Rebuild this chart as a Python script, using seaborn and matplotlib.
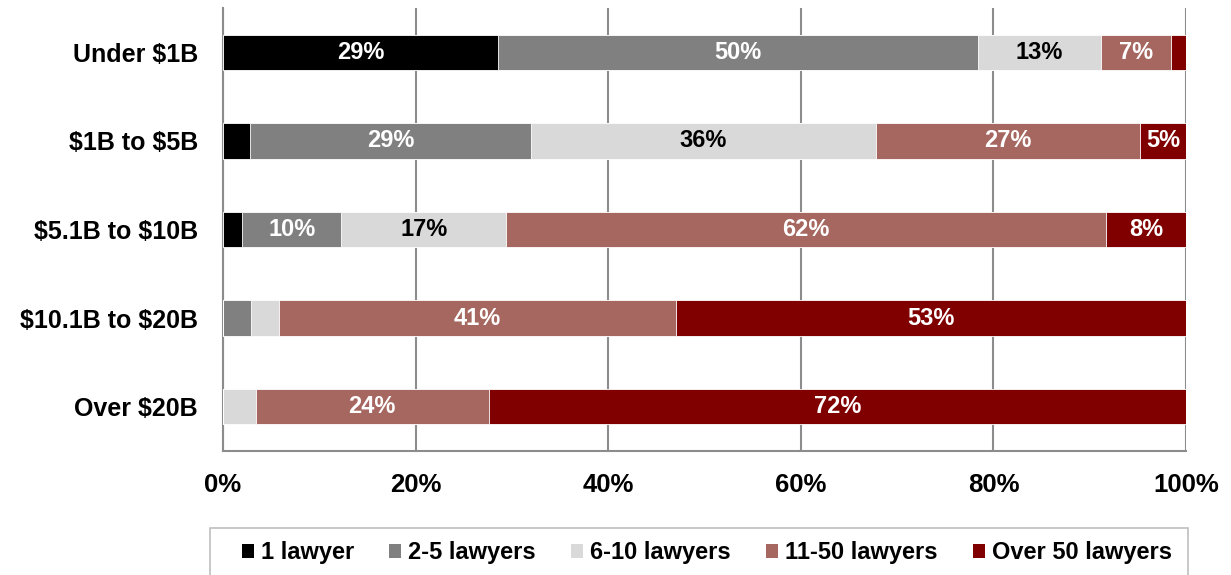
import numpy as np
import pandas as pd
import matplotlib
matplotlib.use("Agg")
import matplotlib.pyplot as plt
import seaborn as sns
from matplotlib.ticker import FixedLocator, PercentFormatter
from matplotlib.patches import Patch, Rectangle

categories = ["Under $1B", "$1B to $5B", "$5.1B to $10B", "$10.1B to $20B", "Over $20B"]
series_names = ["1 lawyer", "2-5 lawyers", "6-10 lawyers", "11-50 lawyers", "Over 50 lawyers"]
one_lawyer = [28.6, 2.8, 2.0, 0.0, 0.0]
two_five = [49.8, 29.2, 10.3, 2.9, 0.0]
six_ten = [12.8, 35.8, 17.1, 2.9, 3.4]
eleven_fifty = [7.2, 27.4, 62.3, 41.2, 24.2]
over_fifty = [1.6, 4.8, 8.3, 53.0, 72.4]
x_ticks = [0, 20, 40, 60, 80, 100]

colors = ["#000000", "#808080", "#d9d9d9", "#a5675f", "#800000"]
text_colors = ["white", "white", "black", "white", "white"]

series = [one_lawyer, two_five, six_ten, eleven_fifty, over_fifty]
vals = np.array(series)  # shape (5 series, 5 cats)
cum = np.cumsum(vals, axis=0)

sns.set_style("white")
plt.rcParams["font.family"] = ["Liberation Sans", "DejaVu Sans"]
plt.rcParams["text.parse_math"] = False
plt.rcParams["text.color"] = "black"
plt.rcParams["xtick.color"] = "black"
plt.rcParams["ytick.color"] = "black"

fig = plt.figure(figsize=(12.31, 5.75), dpi=100)
ax = fig.add_axes([223 / 1231, 1 - 451 / 575, (1186 - 223) / 1231, (451 - 8) / 575])

# stacked bars by overlaying cumulative totals (largest first)
for i in range(len(series) - 1, -1, -1):
    df = pd.DataFrame({"cat": categories, "val": cum[i]})
    sns.barplot(data=df, x="val", y="cat", orient="h", color=colors[i],
                width=0.40, ax=ax, edgecolor="white", linewidth=0.6,
                saturation=1, zorder=3)

# labels
for i in range(len(series)):
    left = cum[i] - vals[i]
    for j, cat in enumerate(categories):
        v = vals[i][j]
        if v >= 4.5:
            ax.text(left[j] + v / 2, j, f"{v:.0f}%", ha="center", va="center",
                    color=text_colors[i], fontsize=17, fontweight="bold", zorder=5)

ax.set_xlim(0, 100)
ax.set_ylim(len(categories) - 0.5, -0.5)
ax.xaxis.set_major_locator(FixedLocator(x_ticks))
ax.xaxis.set_major_formatter(PercentFormatter(decimals=0))
ax.set_xlabel("")
ax.set_ylabel("")
ax.grid(axis="x", color="#8c8c8c", linewidth=1.5, zorder=0)
ax.grid(axis="y", visible=False)
ax.set_axisbelow(True)

for s in ["top", "right"]:
    ax.spines[s].set_visible(False)
for s in ["left", "bottom"]:
    ax.spines[s].set_color("#8c8c8c")
    ax.spines[s].set_linewidth(1.5)

ax.tick_params(axis="x", which="major", length=7, width=1.5, color="#8c8c8c",
               labelcolor="black", direction="out", pad=9, labelsize=18.5)
for lab in ax.get_xticklabels():
    lab.set_fontweight("bold")
ax.yaxis.set_minor_locator(FixedLocator(np.arange(-0.5, len(categories), 1.0)))
ax.tick_params(axis="y", which="minor", length=7, width=1.5, color="#8c8c8c", direction="out")
ax.tick_params(axis="y", which="major", length=0, pad=18, labelsize=18, labelcolor="black")
for lab in ax.get_yticklabels():
    lab.set_fontweight("bold")

# legend frame (extends beyond bottom edge like the reference)
fig.patches.append(Rectangle((210 / 1231, 1 - 600 / 575), (1188 - 210) / 1231, (600 - 528) / 575,
                             transform=fig.transFigure, facecolor="white",
                             edgecolor="#bfbfbf", linewidth=1.2, zorder=0))
handles = [Patch(facecolor=c, edgecolor="none", label=n) for c, n in zip(colors, series_names)]


def make_legend(size):
    return fig.legend(handles=handles, loc="center", ncol=5,
                      bbox_to_anchor=(707 / 1231, 1 - 553 / 575),
                      frameon=False,
                      prop={"family": ["Liberation Sans", "DejaVu Sans"], "size": size, "weight": "bold"},
                      handlelength=0.5, handleheight=0.5, handletextpad=0.3,
                      borderpad=0.0, columnspacing=1.5)


size = 16.0
leg = make_legend(size)
renderer = fig.canvas.get_renderer()
target = 1171 - 243
for _ in range(3):
    w = leg.get_window_extent(renderer).width
    leg.remove()
    size = size * target / w
    leg = make_legend(size)

fig.savefig("out.png", dpi=100)
